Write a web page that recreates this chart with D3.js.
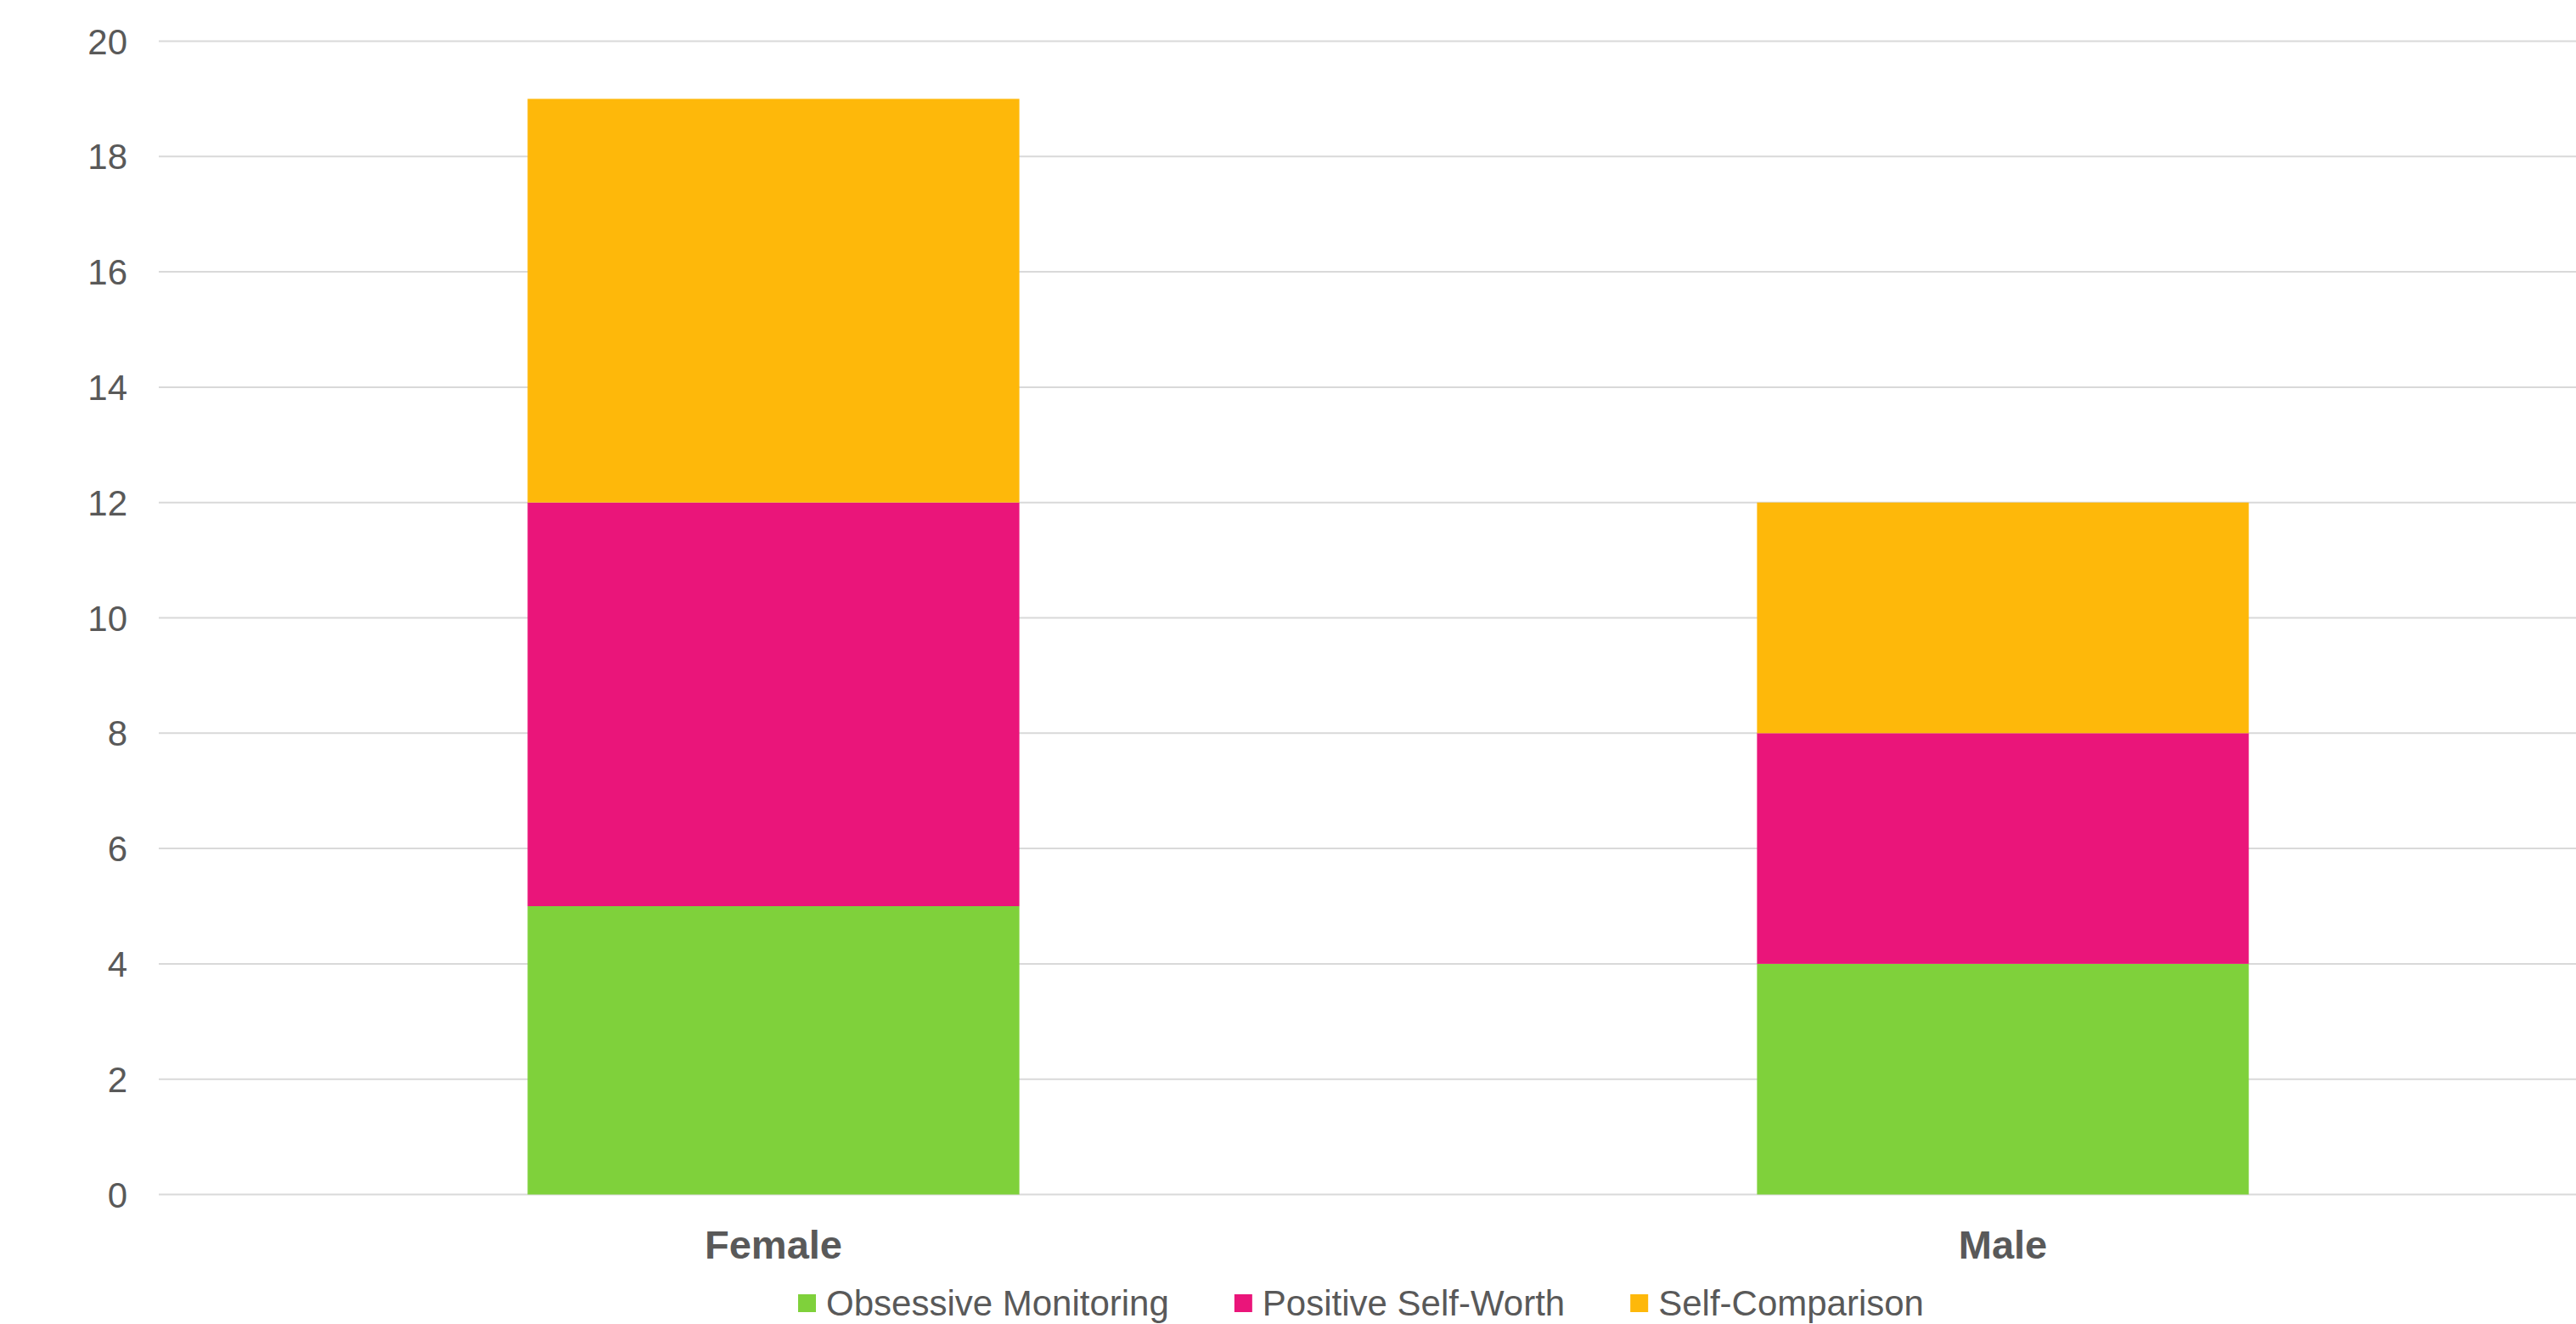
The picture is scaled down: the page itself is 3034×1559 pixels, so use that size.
<!DOCTYPE html>
<html>
<head>
<meta charset="utf-8">
<script src="https://cdn.jsdelivr.net/npm/d3@7"></script>
<style>
  html, body { margin: 0; padding: 0; background: #ffffff; }
  svg { display: block; }
  text { font-family: "Liberation Sans", Arial, sans-serif; fill: #595959; }
</style>
</head>
<body>
<svg id="chart" width="3034" height="1559"></svg>
<script>
// Stacked scores by gender
const categories = ["Female", "Male"];
const seriesNames = ["Obsessive Monitoring", "Positive Self-Worth", "Self-Comparison"];
const obsessiveMonitoring = [5, 4];
const positiveSelfWorth = [7, 4];
const selfComparison = [7, 4];
const yTicks = [0, 2, 4, 6, 8, 10, 12, 14, 16, 18, 20];
const seriesColors = ["#7FD13B", "#EA157A", "#FEB80A"];

const rows = categories.map((c, i) => ({
  category: c,
  "Obsessive Monitoring": obsessiveMonitoring[i],
  "Positive Self-Worth": positiveSelfWorth[i],
  "Self-Comparison": selfComparison[i]
}));

const svg = d3.select("#chart");
const plot = { left: 187, right: 3083, top: 48.5, bottom: 1406.5 };

const x = d3.scaleBand()
  .domain(categories)
  .range([plot.left, plot.right])
  .paddingInner(0.6)
  .paddingOuter(0.3);

const y = d3.scaleLinear().domain([0, 20]).range([plot.bottom, plot.top]);

const color = d3.scaleOrdinal().domain(seriesNames).range(seriesColors);

// Horizontal gridlines
svg.append("g")
  .selectAll("line")
  .data(yTicks)
  .join("line")
  .attr("x1", plot.left)
  .attr("x2", 3034)
  .attr("y1", d => y(d))
  .attr("y2", d => y(d))
  .attr("stroke", "#D9D9D9")
  .attr("stroke-width", 2);

// Y tick labels
svg.append("g")
  .selectAll("text")
  .data(yTicks)
  .join("text")
  .attr("x", 150)
  .attr("y", d => y(d))
  .attr("dy", "0.36em")
  .attr("text-anchor", "end")
  .style("font-size", "42px")
  .text(d => d);

// Stacked bars
const stacked = d3.stack().keys(seriesNames)(rows);
svg.append("g")
  .selectAll("g")
  .data(stacked)
  .join("g")
  .attr("fill", d => color(d.key))
  .selectAll("rect")
  .data(d => d)
  .join("rect")
  .attr("x", d => x(d.data.category))
  .attr("width", x.bandwidth())
  .attr("y", d => y(d[1]))
  .attr("height", d => y(d[0]) - y(d[1]));

// Category labels
svg.append("g")
  .selectAll("text")
  .data(categories)
  .join("text")
  .attr("x", d => x(d) + x.bandwidth() / 2)
  .attr("y", 1482)
  .attr("text-anchor", "middle")
  .style("font-size", "47px")
  .style("font-weight", "bold")
  .text(d => d);

// Legend
const legend = svg.append("g");
let lx = 940;
seriesNames.forEach(name => {
  legend.append("rect")
    .attr("x", lx)
    .attr("y", 1524)
    .attr("width", 21)
    .attr("height", 21)
    .attr("fill", color(name));
  const t = legend.append("text")
    .attr("x", lx + 33)
    .attr("y", 1549)
    .style("font-size", "42px")
    .text(name);
  lx += 33 + t.node().getComputedTextLength() + 77;
});
</script>
</body>
</html>
